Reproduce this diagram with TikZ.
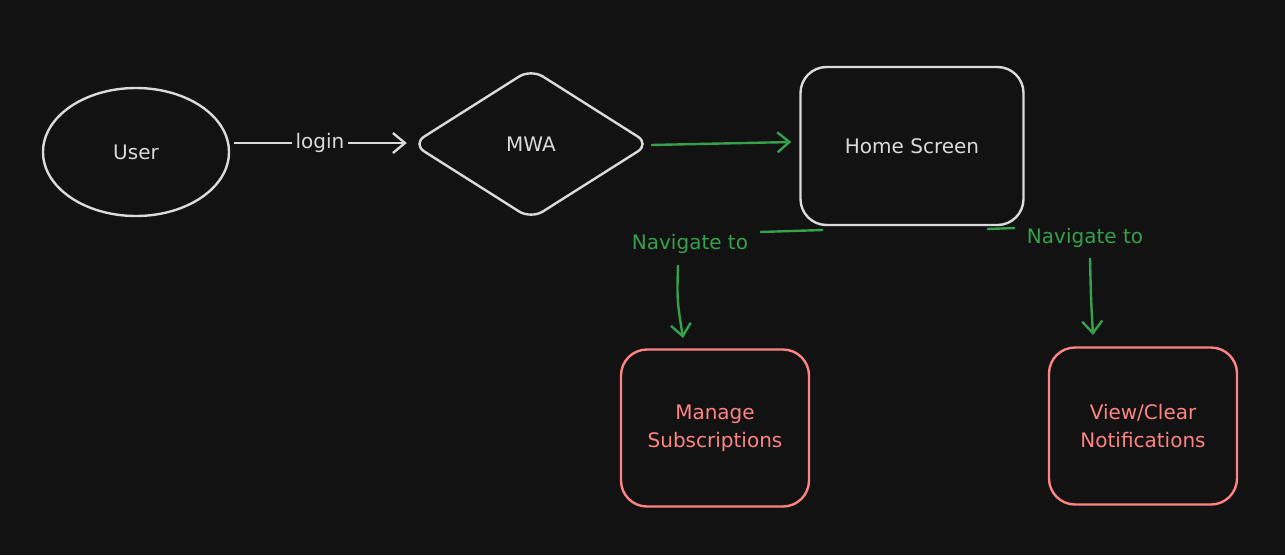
\documentclass[tikz,border=0pt]{standalone}
\usepackage{fontspec}
\setmainfont{DejaVu Sans}
\usetikzlibrary{shapes.geometric,arrows.meta}
\definecolor{bg}{HTML}{121212}
\definecolor{ink}{HTML}{DADADA}
\definecolor{grn}{HTML}{37A04C}
\definecolor{rd}{HTML}{FF8383}
\tikzset{
  every node/.style={font=\fontsize{20}{24}\selectfont},
  shapebox/.style={draw=ink, line width=2.4pt, text=ink},
  redbox/.style={draw=rd, line width=2.4pt, text=rd, rounded corners=26pt, minimum width=188pt, minimum height=157pt, align=center},
  conn/.style={line width=2.4pt, -{Straight Barb[length=12pt,width=20pt,line width=2.4pt]}},
  glabel/.style={text=grn, inner sep=2pt}
}
\begin{document}
\begin{tikzpicture}[x=1pt,y=-1pt]
\fill[bg] (0,0) rectangle (1285,555);
\useasboundingbox (0,0) rectangle (1285,555);
% nodes
\node[shapebox, ellipse, minimum width=186pt, minimum height=128pt] (user) at (136,152) {User};
\node[shapebox, diamond, aspect=1.59, minimum width=238pt, minimum height=151pt, rounded corners=14pt, inner sep=0pt] (mwa) at (531,144) {MWA};
\node[shapebox, rounded corners=26pt, minimum width=223pt, minimum height=158pt] (home) at (912,146) {Home Screen};
\node[redbox] (manage) at (715,428) {Manage\\[4pt]Subscriptions};
\node[redbox] (view) at (1143,426) {View/Clear\\[4pt]Notifications};
% labels
\node[text=ink, fill=bg, inner sep=3pt] (login) at (320,143) {login};
\node[glabel] (navL) at (690,244) {Navigate to};
\node[glabel] (navR) at (1085,238) {Navigate to};
% coordinates
\coordinate (hL) at (823,230);
\coordinate (hLe) at (760,232);
\coordinate (aLs) at (678,265);
\coordinate (aLe) at (683,338);
\coordinate (hR) at (987,229);
\coordinate (hRe) at (1015,228);
\coordinate (aRs) at (1090,258);
\coordinate (aRe) at (1093,335);
% connectors
\draw[line width=2.4pt, draw=ink] ([xshift=4pt]user.east |- login.center) -- (login.west);
\draw[conn, draw=ink] (login.east) -- ([xshift=-4pt]mwa.west |- login.center);
\draw[conn, draw=grn] ([xshift=0pt,yshift=-1pt]mwa.east) -- ([xshift=-8pt,yshift=4pt]home.west);
\draw[line width=2.4pt, draw=grn] (hL) -- (hLe);
\draw[conn, draw=grn] (aLs) .. controls (677,300) .. (aLe);
\draw[line width=2.4pt, draw=grn] (hR) -- (hRe);
\draw[conn, draw=grn] (aRs) .. controls (1091,300) .. (aRe);
\end{tikzpicture}
\end{document}
